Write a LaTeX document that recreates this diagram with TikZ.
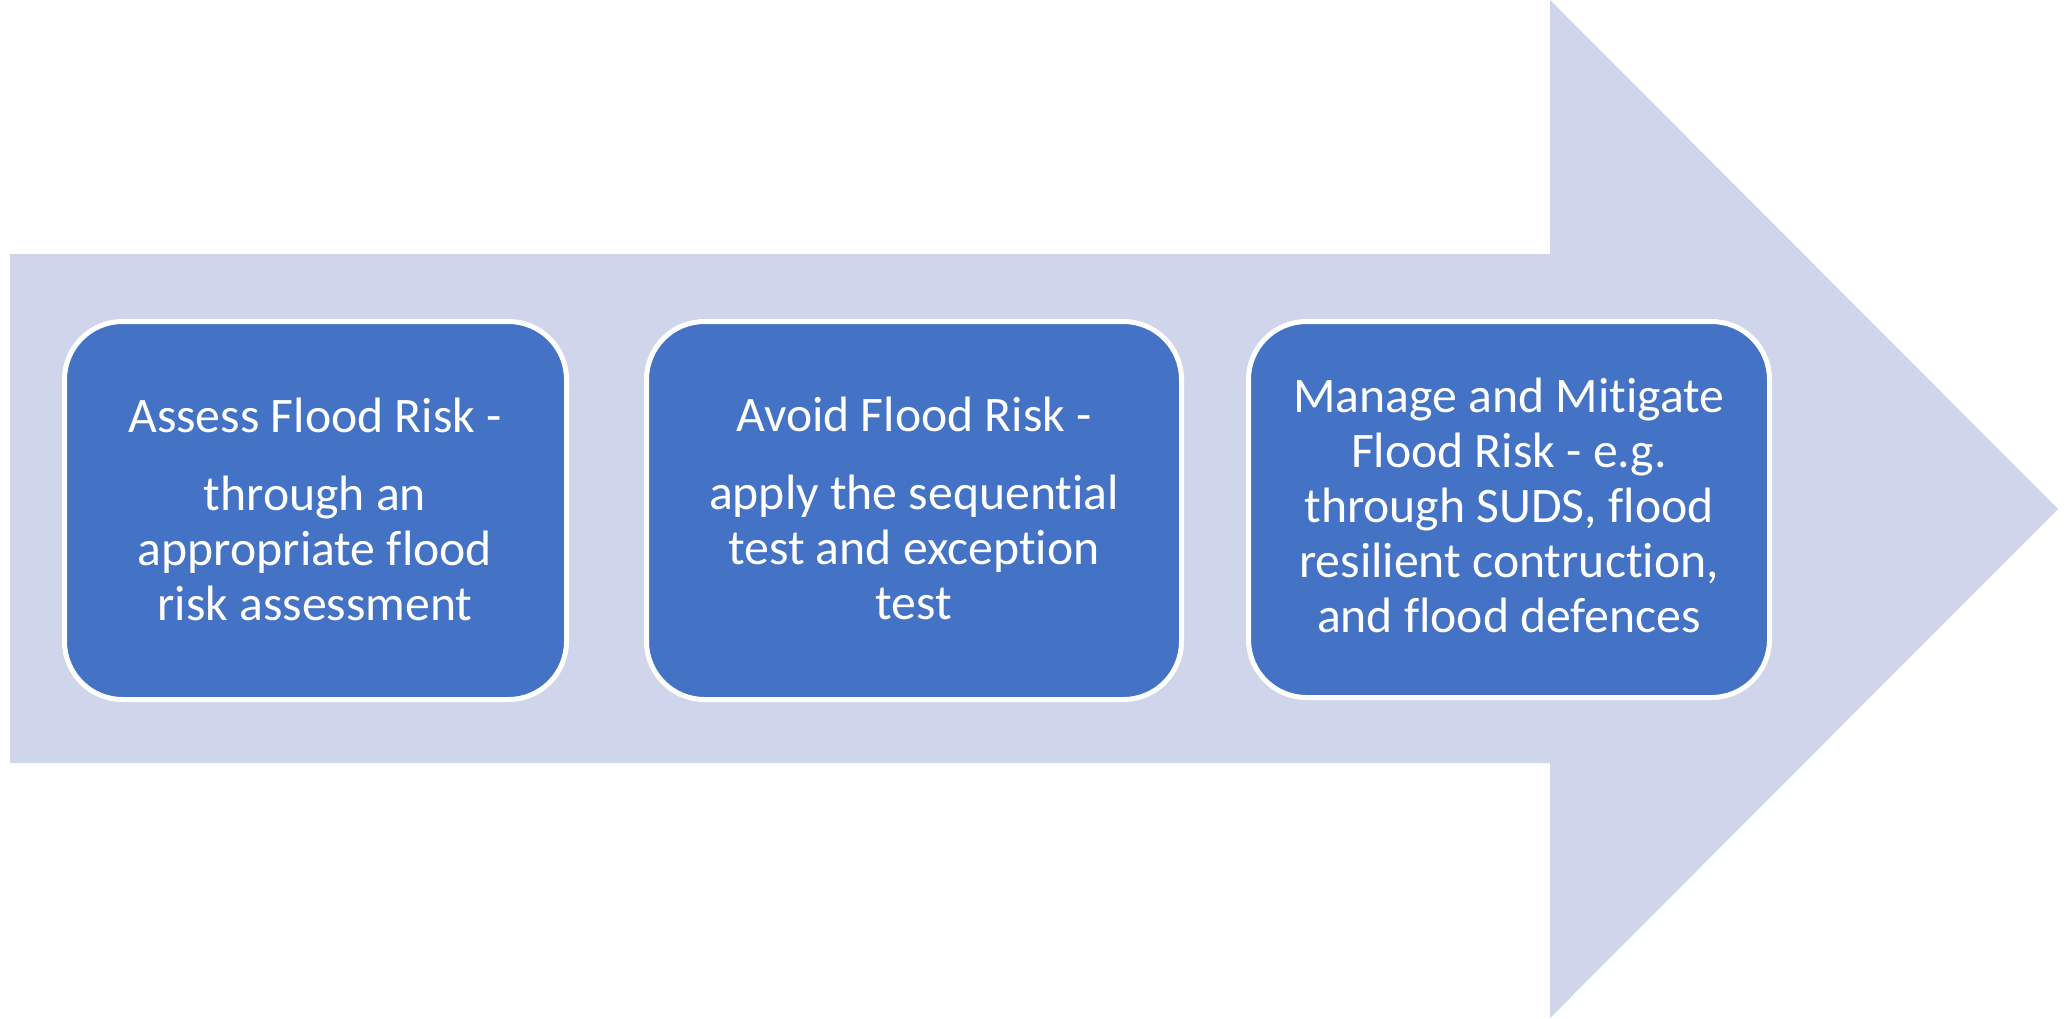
\documentclass[tikz,border=0pt]{standalone}
\usepackage{fontspec}
\setmainfont{Carlito}[Ligatures={NoCommon}]
\definecolor{arrowfill}{HTML}{CFD5EA}
\definecolor{boxblue}{HTML}{4472C4}
\begin{document}
\begin{tikzpicture}[x=1pt,y=-1pt,
  stepbox/.style={draw=white, line width=5pt, fill=boxblue, rounded corners=58pt,
    inner sep=0pt, minimum height=378pt},
  txt/.style={text=white, align=center, inner sep=0pt, anchor=north,
    font=\fontsize{49.7}{55}\selectfont}]
\useasboundingbox (0,0) rectangle (2068,1018);
\fill[white] (0,0) rectangle (2068,1018);
% big arrow
\fill[arrowfill] (10,254) -- (1550,254) -- (1550,0) -- (2058,509)
  -- (1550,1018) -- (1550,763) -- (10,763) -- cycle;
% boxes
\node[stepbox, minimum width=502pt] (b1) at (315.5,510.5) {};
\node[stepbox, minimum width=535pt] (b2) at (914,510.5) {};
\node[stepbox, minimum width=521pt, minimum height=376pt] (b3) at (1509,509.5) {};
% texts (first baseline minus strut height 38.5)
\node[txt] (t1) at (315,393.5)
  {\strut Assess Flood Risk -\\[23pt]\strut through an\\\strut appropriate flood\\\strut risk assessment};
\node[txt] (t2) at (914,392.5)
  {\strut Avoid Flood Risk -\\[23pt]\strut apply the sequential\\\strut test and exception\\\strut test};
\node[txt] (t3) at (1509,373.5)
  {\strut Manage and Mitigate\\\strut Flood Risk - e.g.\\\strut through SUDS, flood\\\strut resilient contruction,\\\strut and flood defences};
\end{tikzpicture}
\end{document}
